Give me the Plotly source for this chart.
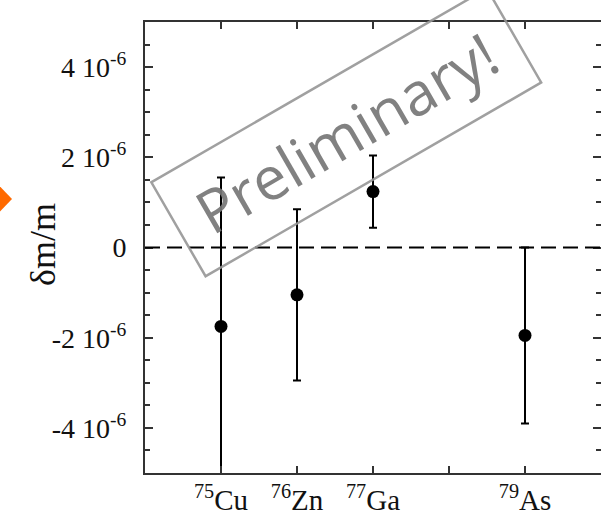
import plotly.graph_objects as go

# Data (values in units of 1e-6)
isotopes = ["<sup>75</sup>Cu", "<sup>76</sup>Zn", "<sup>77</sup>Ga", "<sup>79</sup>As"]
mass_numbers = [75, 76, 77, 79]
dm_over_m = [-1.75, -1.05, 1.24, -1.95]
dm_err = [3.3, 1.9, 0.8, 1.95]

x_tickvals = [75, 76, 77, 78, 79]
x_ticktext = ["<sup>75</sup>Cu", "<sup>76</sup>Zn", "<sup>77</sup>Ga", "", "<sup>79</sup>As"]
y_tickvals = [-4, -2, 0, 2, 4]
y_ticktext = ["-4 10<sup>-6</sup>", "-2 10<sup>-6</sup>", "0", "2 10<sup>-6</sup>", "4 10<sup>-6</sup>"]

scale = 1e-6
yvals = [v * scale for v in dm_over_m]
yerrs = [e * scale for e in dm_err]

W, H = 601, 513
ML, MR, MT, MB = 145, 0, 22, 40

fig = go.Figure()
fig.add_trace(go.Scatter(
    x=mass_numbers, y=yvals, mode="markers",
    marker=dict(color="black", size=13),
    error_y=dict(type="data", array=yerrs, visible=True, color="black",
                 thickness=2, width=4),
    showlegend=False, cliponaxis=True,
))

serif = "Liberation Serif"
axcol = "#333333"

fig.update_layout(
    width=W, height=H,
    margin=dict(l=ML, r=MR, t=MT, b=MB, autoexpand=False),
    paper_bgcolor="white", plot_bgcolor="white",
    xaxis=dict(
        range=[74, 80], tickmode="array", tickvals=x_tickvals, ticktext=x_ticktext,
        ticks="inside", ticklen=7, tickwidth=1.5, tickcolor=axcol,
        showline=True, linecolor=axcol, linewidth=2, mirror="ticks",
        showgrid=False, zeroline=False, automargin=False,
        tickfont=dict(family=serif, size=29, color="#111"),
    ),
    yaxis=dict(
        range=[-5 * scale, 5 * scale], tickmode="array",
        tickvals=[v * scale for v in y_tickvals], ticktext=y_ticktext,
        ticks="inside", ticklen=8, tickwidth=1.5, tickcolor=axcol,
        minor=dict(dtick=0.5 * scale, tick0=0, ticks="inside", ticklen=5,
                   tickwidth=1.5, tickcolor=axcol, showgrid=False),
        showline=True, linecolor=axcol, linewidth=2, mirror="ticks",
        showgrid=False, zeroline=False, automargin=False,
        tickfont=dict(family=serif, size=28, color="#111"),
        ticklabelstandoff=11,
    ),
    font=dict(family=serif),
)

# zero line
fig.add_shape(type="line", xref="paper", x0=0, x1=1, yref="y", y0=0, y1=0,
              line=dict(color="black", width=2.2, dash="15px,7px"), layer="above")


def px(xp):
    return (xp - ML) / (W - ML - MR)


def py(yp):
    return (H - MB - yp) / (H - MT - MB)


# y-axis title
fig.add_annotation(
    text="δm/m", xref="paper", yref="paper",
    x=px(43), y=py(245),
    xanchor="center", yanchor="middle", textangle=-90, showarrow=False,
    font=dict(family=serif, size=36, color="#111"),
)

# watermark
fig.add_annotation(
    text="Preliminary!", xref="paper", yref="paper",
    x=px(346), y=py(132),
    xanchor="center", yanchor="middle", textangle=-30, showarrow=False,
    font=dict(family="Open Sans", size=60, color="rgba(118,118,118,0.92)"),
    bordercolor="rgba(150,150,150,0.9)", borderwidth=2.5, borderpad=0,
    width=385, height=106,
)

# orange arrow tip at left edge
path = "M {},{} L {},{} L {},{} Z".format(px(-10), py(176), px(12), py(199), px(-10), py(222))
fig.add_shape(type="path", xref="paper", yref="paper", path=path,
              fillcolor="#FF6A00", line=dict(width=0), layer="above")

fig.write_html("out.html", config={"displayModeBar": False},
               post_script="document.body.style.margin='0';")
